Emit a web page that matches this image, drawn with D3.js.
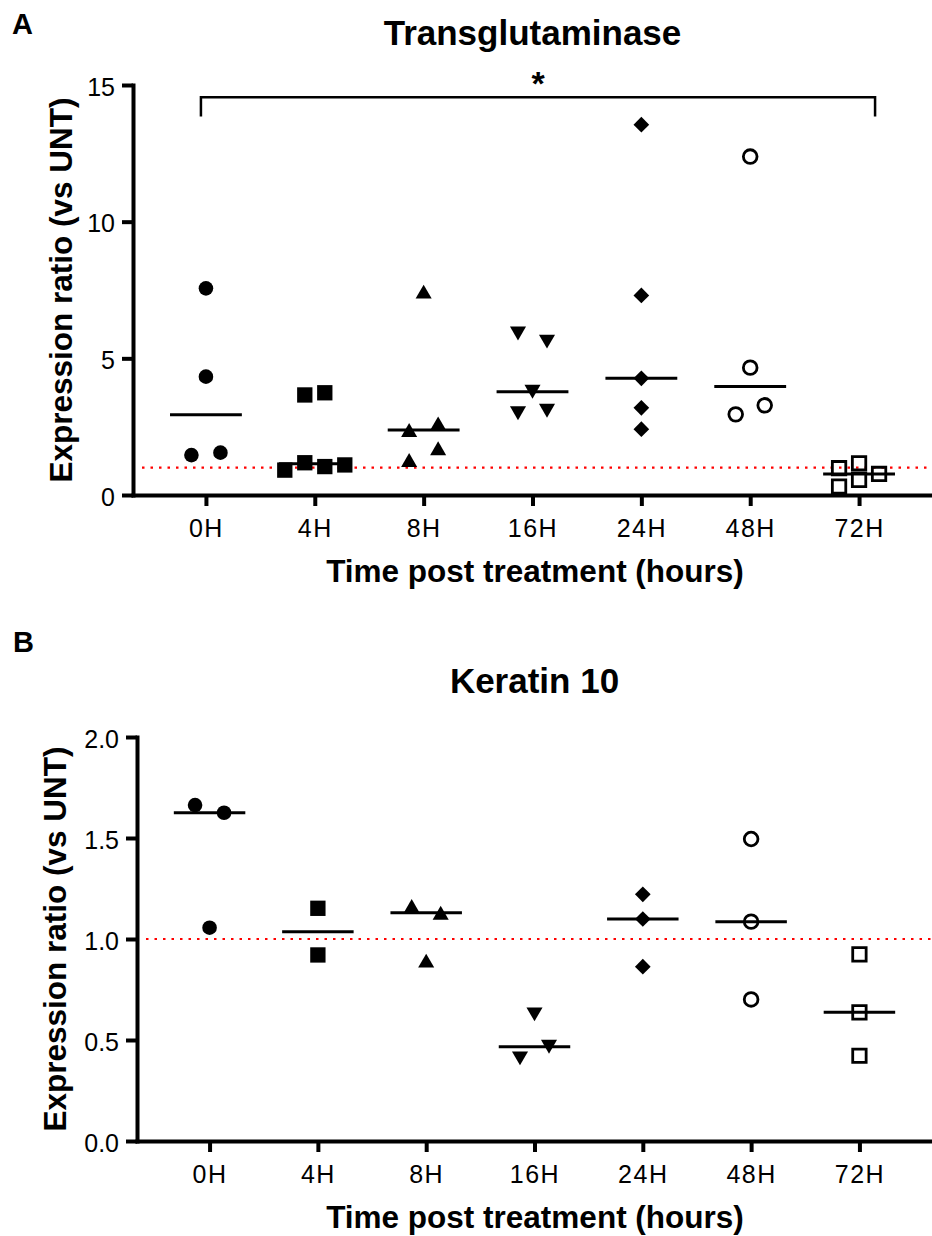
<!DOCTYPE html>
<html>
<head>
<meta charset="utf-8">
<script src="https://cdnjs.cloudflare.com/ajax/libs/d3/7.8.5/d3.min.js"></script>
<style>
  body { margin: 0; background: #fff; }
  svg text { font-family: "Liberation Sans", Arial, sans-serif; fill: #000; }
</style>
</head>
<body>
<div id="chart"></div>
<script>
const timepoints = ["0H", "4H", "8H", "16H", "24H", "48H", "72H"];

// Transglutaminase, one list of replicates per timepoint
const tgmValues = [
    [7.56, 4.33, 1.55, 1.46],
    [3.74, 3.66, 1.04, 1.18, 1.10, 0.91],
    [7.44, 2.62, 2.38, 1.71, 1.28],
    [5.61, 5.91, 3.78, 3.08, 2.99],
    [13.55, 7.30, 4.27, 3.19, 2.41],
    [12.38, 4.66, 3.28, 2.95],
    [1.16, 0.98, 0.77, 0.55, 0.31]
];
const tgmTicks = [0, 5, 10, 15];

// Keratin 10
const krtValues = [
    [1.625, 1.663, 1.056],
    [1.152, 0.921],
    [1.130, 1.163, 0.893],
    [0.627, 0.467, 0.409],
    [1.221, 1.099, 0.863],
    [1.495, 1.086, 0.701],
    [0.924, 0.637, 0.422]
];
const krtTicks = [0, 0.5, 1.0, 1.5, 2.0];

const untLevel = 1;
const tgmSignificance = { from: "0H", to: "72H", level: 14.55, drop: 13.85, label: "*" };

// symbol types, one per timepoint
const triUp = { draw(ctx, size) {
    const s = Math.sqrt(size * 4 / Math.sqrt(3)), h = s * Math.sqrt(3) / 2;
    ctx.moveTo(0, -h / 2); ctx.lineTo(s / 2, h / 2); ctx.lineTo(-s / 2, h / 2); ctx.closePath();
}};
const triDown = { draw(ctx, size) {
    const s = Math.sqrt(size * 4 / Math.sqrt(3)), h = s * Math.sqrt(3) / 2;
    ctx.moveTo(0, h / 2); ctx.lineTo(s / 2, -h / 2); ctx.lineTo(-s / 2, -h / 2); ctx.closePath();
}};
const rhomb = { draw(ctx, size) {
    const r = Math.sqrt(size / 2);
    ctx.moveTo(0, -r); ctx.lineTo(r, 0); ctx.lineTo(0, r); ctx.lineTo(-r, 0); ctx.closePath();
}};

const markers = [
    { type: d3.symbolCircle, size: 167, filled: true, spread: 29 },
    { type: d3.symbolSquare, size: 235, filled: true, spread: 20 },
    { type: triUp, size: 112, filled: true, spread: 29 },
    { type: triDown, size: 112, filled: true, spread: 29 },
    { type: rhomb, size: 123, filled: true, spread: 29 },
    { type: d3.symbolCircle, size: 147, filled: false, spread: 29 },
    { type: d3.symbolSquare, size: 180, filled: false, spread: 20 }
];
const HIT = 15;

const svg = d3.select("#chart").append("svg")
    .attr("width", 932)
    .attr("height", 1236);

// spread out points that would overlap, then centre each touching run
function dodge(values, y, spread) {
    const placed = [];
    values.forEach(v => {
        const py = y(v);
        let dx = 0;
        for (let i = 0; ; i++) {
            dx = i === 0 ? 0 : (i % 2 ? -1 : 1) * Math.ceil(i / 2) * spread;
            const hit = placed.some(p => Math.abs(p.dx - dx) < HIT && Math.abs(p.py - py) < HIT);
            if (!hit) break;
        }
        placed.push({ v, py, dx });
    });
    const sorted = placed.slice().sort((a, b) => a.py - b.py);
    const runs = [[sorted[0]]];
    for (let i = 1; i < sorted.length; i++) {
        if (sorted[i].py - sorted[i - 1].py < HIT) runs[runs.length - 1].push(sorted[i]);
        else runs.push([sorted[i]]);
    }
    runs.forEach(r => {
        const shift = -(d3.min(r, p => p.dx) + d3.max(r, p => p.dx)) / 2;
        r.forEach(p => p.dx += shift);
    });
    return placed;
}

function drawPanel(opts) {
    const g = svg.append("g");

    const x = d3.scalePoint()
        .domain(timepoints)
        .range([opts.left, opts.right])
        .padding(0.67);
    const y = d3.scaleLinear()
        .domain(opts.domain)
        .range([opts.bottom, opts.top]);

    g.append("text")
        .attr("x", opts.letterX)
        .attr("y", opts.letterY)
        .attr("font-size", 29)
        .attr("font-weight", "bold")
        .text(opts.letter);

    g.append("text")
        .attr("x", (opts.left + opts.right) / 2)
        .attr("y", opts.titleY)
        .attr("text-anchor", "middle")
        .attr("font-size", 35)
        .attr("font-weight", "bold")
        .text(opts.title);

    g.append("line")
        .attr("x1", opts.left + 9)
        .attr("x2", opts.right)
        .attr("y1", y(untLevel))
        .attr("y2", y(untLevel))
        .attr("stroke", "#ff0000")
        .attr("stroke-width", 2.2)
        .attr("stroke-dasharray", "2.5,6");

    const half = x.step() * 0.33;
    g.selectAll(".median")
        .data(opts.values)
        .enter()
        .append("line")
        .attr("class", "median")
        .attr("x1", (d, i) => x(timepoints[i]) - half)
        .attr("x2", (d, i) => x(timepoints[i]) + half)
        .attr("y1", d => y(d3.median(d)))
        .attr("y2", d => y(d3.median(d)))
        .attr("stroke", "#000")
        .attr("stroke-width", 3);

    opts.values.forEach((vals, i) => {
        const m = markers[i];
        const pts = dodge(vals, y, m.spread);
        g.selectAll(".pt" + i)
            .data(pts)
            .enter()
            .append("path")
            .attr("class", "pt" + i)
            .attr("transform", d => `translate(${x(timepoints[i]) + d.dx},${d.py})`)
            .attr("d", d3.symbol().type(m.type).size(m.size))
            .attr("fill", m.filled ? "#000" : "none")
            .attr("stroke", m.filled ? "none" : "#000")
            .attr("stroke-width", 2.8);
    });

    const yAxis = g.append("g")
        .attr("transform", `translate(${opts.left},0)`)
        .call(d3.axisLeft(y).tickValues(opts.ticks).tickFormat(opts.format)
            .tickSize(11).tickSizeOuter(0).tickPadding(7));
    const xAxis = g.append("g")
        .attr("transform", `translate(0,${opts.bottom})`)
        .call(d3.axisBottom(x).tickSize(11).tickSizeOuter(0).tickPadding(13));

    [yAxis, xAxis].forEach(a => {
        a.attr("font-family", null).attr("font-size", 25);
        a.select(".domain").attr("stroke-width", 4).attr("stroke-linecap", "square");
        a.selectAll(".tick line").attr("stroke-width", 4);
        a.selectAll(".tick text").attr("fill", "#000");
    });
    yAxis.selectAll(".tick text").attr("dy", "0.4em");
    xAxis.selectAll(".tick text").attr("letter-spacing", 1.5);

    g.append("text")
        .attr("transform", `translate(${opts.yLabelX},${(opts.top + opts.bottom) / 2}) rotate(-90)`)
        .attr("text-anchor", "middle")
        .attr("font-size", 31.5)
        .attr("font-weight", "bold")
        .text("Expression ratio (vs UNT)");

    g.append("text")
        .attr("x", 535)
        .attr("y", opts.xLabelY)
        .attr("text-anchor", "middle")
        .attr("font-size", 31.5)
        .attr("font-weight", "bold")
        .text("Time post treatment (hours)");

    if (opts.sig) {
        const s = opts.sig;
        const x1 = x(s.from) - 5, x2 = x(s.to) + 16;
        g.append("path")
            .attr("d", `M${x1},${y(s.drop)}V${y(s.level)}H${x2}V${y(s.drop)}`)
            .attr("fill", "none")
            .attr("stroke", "#000")
            .attr("stroke-width", 2.5);
        g.append("text")
            .attr("x", (x1 + x2) / 2)
            .attr("y", y(s.level) - 2)
            .attr("text-anchor", "middle")
            .attr("font-size", 34)
            .attr("font-weight", "bold")
            .text(s.label);
    }
}

drawPanel({
    letter: "A", letterX: 12, letterY: 34,
    title: "Transglutaminase", titleY: 45,
    left: 133, right: 932, top: 85, bottom: 495,
    domain: [0, 15], ticks: tgmTicks, format: d3.format("d"),
    values: tgmValues, yLabelX: 72, xLabelY: 582,
    sig: tgmSignificance
});

drawPanel({
    letter: "B", letterX: 13, letterY: 652,
    title: "Keratin 10", titleY: 693,
    left: 137, right: 932, top: 737, bottom: 1141,
    domain: [0, 2], ticks: krtTicks, format: d3.format(".1f"),
    values: krtValues, yLabelX: 66, xLabelY: 1228
});
</script>
</body>
</html>
